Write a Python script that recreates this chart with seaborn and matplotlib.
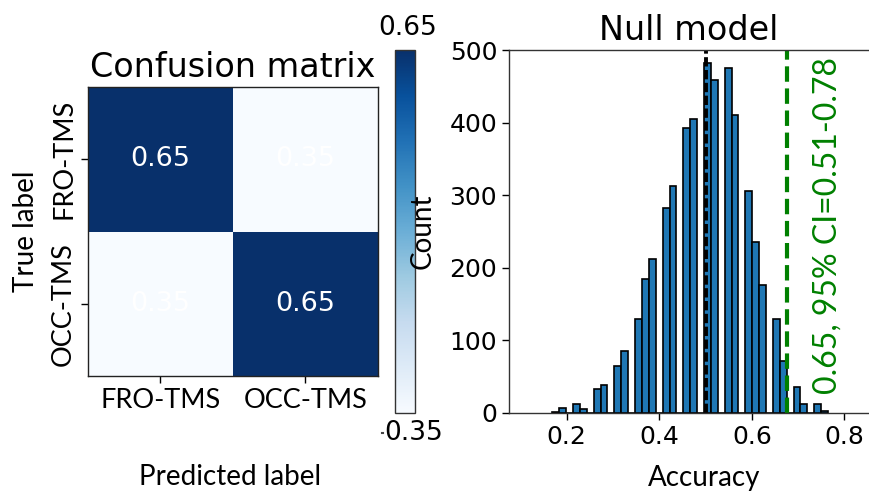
import numpy as np
import pandas as pd
import matplotlib
matplotlib.use("Agg")
import matplotlib.pyplot as plt
import seaborn as sns

# ---- data ----
class_names = ["FRO-TMS", "OCC-TMS"]
confusion = [[0.65, 0.35],
             [0.35, 0.65]]

# null-model accuracy histogram (5000 label permutations), 40 bins
null_range = (0.169, 0.7645)
null_counts = [2, 7, 0, 12, 6, 0, 33, 38, 0, 65,
               86, 0, 130, 184, 212, 0, 282, 312, 0, 393,
               405, 0, 482, 458, 0, 475, 410, 0, 306, 235,
               176, 0, 130, 72, 0, 36, 12, 0, 12, 3]
chance_level = 0.5
null_threshold = 0.675
observed_text = "0.65, 95% CI=0.51-0.78"

# ---- figure ----
W, H = 870, 494
fig = plt.figure(figsize=(W / 100, H / 100), dpi=100)


def px_axes(x0, y0, x1, y1):
    return fig.add_axes([x0 / W, 1 - y1 / H, (x1 - x0) / W, (y1 - y0) / H])


label_font = ["Lato", "DejaVu Sans"]

ax_cm = px_axes(88, 87, 378, 376)
cax = px_axes(395, 50, 415, 413)
ax_h = px_axes(509, 50, 885, 413)

# confusion matrix
sns.heatmap(confusion, ax=ax_cm, cbar_ax=cax, cmap="Blues", vmin=0.35, vmax=0.65,
            annot=True, fmt=".2f", annot_kws={"color": "white", "size": 19.5},
            xticklabels=class_names, yticklabels=class_names, square=False)
for s in ax_cm.spines.values():
    s.set_visible(True)
    s.set_linewidth(1.0)
    s.set_color("#222222")
ax_cm.set_title("Confusion matrix", fontsize=24, pad=7)
ax_cm.tick_params(axis="both", length=5, width=1, labelsize=19.5)
for t in ax_cm.get_xticklabels():
    t.set_fontfamily(label_font)
    t.set_rotation(0)
for t in ax_cm.get_yticklabels():
    t.set_fontfamily(label_font)
    t.set_rotation(90)
    t.set_va("center")
ax_cm.set_xlabel("Predicted label", fontsize=20, family=label_font)
ax_cm.xaxis.set_label_coords(0.49, -0.305)
ax_cm.set_ylabel("True label", fontsize=20, family=label_font, labelpad=9)

# colorbar: only end labels
cax.set_yticks([])
cax.text(0.65, 1.06, "0.65", transform=cax.transAxes, ha="center", va="center", fontsize=19)
cax.text(0.95, -0.055, "0.35", transform=cax.transAxes, ha="center", va="center", fontsize=19)
cax.plot([-0.66, -0.58], [-0.055, -0.055], transform=cax.transAxes, color="#444444",
         lw=1.5, clip_on=False)
for s in cax.spines.values():
    s.set_linewidth(1.0)
    s.set_color("#333333")

# null model histogram
n_bins = len(null_counts)
bin_w = (null_range[1] - null_range[0]) / n_bins
centers = null_range[0] + bin_w * (np.arange(n_bins) + 0.5)
hist_df = pd.DataFrame({"accuracy": centers, "count": null_counts})
sns.histplot(data=hist_df, x="accuracy", weights="count", bins=n_bins, binrange=null_range,
             ax=ax_h, color="#1f77b4", edgecolor="black", linewidth=1.2, alpha=1)
ax_h.axvline(chance_level, color="black", lw=2.8, linestyle=(0, (2.4, 0.9)))
ax_h.axvline(null_threshold, color="green", lw=3, linestyle="--")
ax_h.text(0.764, 26, observed_text, rotation=90, color="green", ha="center", va="bottom",
          fontsize=23, family=label_font)
ax_h.set_xlim(0.0754, 0.8875)
ax_h.set_ylim(0, 500)
ax_h.set_xticks([0.2, 0.4, 0.6, 0.8])
ax_h.set_yticks([0, 100, 200, 300, 400, 500])
ax_h.tick_params(axis="both", length=5, width=1, labelsize=18)
ax_h.set_title("Null model", fontsize=24, pad=7, x=0.479)
ax_h.set_xlabel("Accuracy", fontsize=20, family=label_font)
ax_h.xaxis.set_label_coords((704 - 509) / 376, -0.143)
ax_h.set_ylabel("Count", fontsize=20, family=label_font, labelpad=10)
for s in ax_h.spines.values():
    s.set_linewidth(1.0)
    s.set_color("#333333")

fig.savefig("out.png", dpi=100)
